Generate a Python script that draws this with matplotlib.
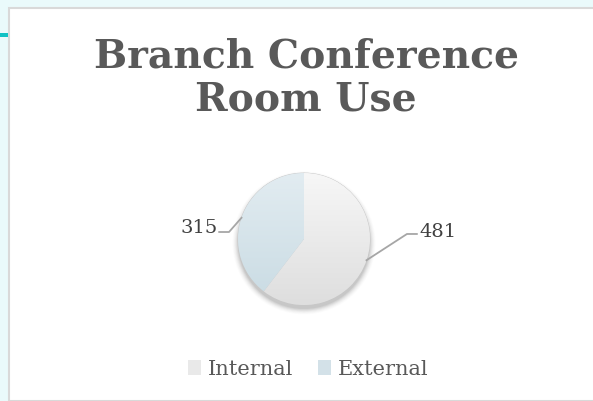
import numpy as np
import matplotlib
matplotlib.use("Agg")
import matplotlib.pyplot as plt
from matplotlib.patches import Rectangle, Circle
from matplotlib.lines import Line2D

categories = ["Internal", "External"]
values = [481, 315]
title = "Branch Conference\nRoom Use"

W, H = 593, 402
fig = plt.figure(figsize=(W / 100, H / 100), dpi=100)
fig.patch.set_facecolor("#eafafb")

# white panel with light border
fig.patches.append(Rectangle((9 / W, 0), 1, 1 - 9 / H, transform=fig.transFigure,
                             facecolor="white", edgecolor="#d9d9d9", lw=1.5, zorder=-5))
fig.patches.append(Rectangle((0, 1 - 37.5 / H), 8 / W, 4 / H, transform=fig.transFigure,
                             facecolor="#12c2c4", edgecolor="none", zorder=-4))

serif = ["DejaVu Serif"]

fig.text(306 / W, 1 - 78 / H, title, ha="center", va="center", fontsize=28.3,
         fontweight="bold", color="#595959", family=serif, linespacing=1.17)

R = 66
cx, cy = 304, 240
ax = fig.add_axes([(cx - 1.5 * R) / W, (H - cy - 1.5 * R) / H, 3 * R / W, 3 * R / H])
ax.set_xlim(-1.5, 1.5)
ax.set_ylim(-1.5, 1.5)
ax.set_aspect("equal")
ax.axis("off")

# soft shadow
for i, a in enumerate(np.linspace(0.045, 0.01, 8)):
    ax.add_patch(Circle((0, -0.06), 1.0 + 0.012 * i, facecolor="black", alpha=a,
                        edgecolor="none", zorder=1))

wedges, _ = ax.pie(values, startangle=90, counterclock=False, radius=1,
                   colors=["#f2f2f2", "#d6e4ea"],
                   wedgeprops=dict(edgecolor="#c8c8c8", linewidth=0.6, zorder=2))

# vertical gradients clipped to wedges
grads = [("#f7f7f7", "#dedede"), ("#e2ecf1", "#c9dbe3")]
yy = np.linspace(1, 0, 200)[:, None] * np.ones((1, 2))
for w, (top, bot) in zip(wedges, grads):
    c1 = np.array(matplotlib.colors.to_rgb(top))
    c2 = np.array(matplotlib.colors.to_rgb(bot))
    img = c2[None, None, :] + (c1 - c2)[None, None, :] * yy[:, :, None]
    im = ax.imshow(img, extent=(-1, 1, -1, 1), origin="upper", zorder=2.5,
                   aspect="auto", interpolation="bilinear")
    im.set_clip_path(w)
ax.set_xlim(-1.5, 1.5)
ax.set_ylim(-1.5, 1.5)

for w, v in zip(wedges, values):
    mid = np.deg2rad((w.theta1 + w.theta2) / 2)
    ex, ey = np.cos(mid), np.sin(mid)
    if ex > 0:
        elbow = (1.56, 0.076)
        end = (1.71, 0.076)
        txt = (1.745, 0.045)
        ha = "left"
    else:
        elbow = (-1.136, 0.106)
        end = (-1.285, 0.106)
        txt = (-1.30, 0.106)
        ha = "right"
    ax.add_line(Line2D([ex, elbow[0], end[0]], [ey, elbow[1], end[1]], color="#a6a6a6",
                       lw=1.3, clip_on=False, zorder=3))
    ax.text(txt[0], txt[1], str(v), ha=ha, va="baseline", fontsize=14, color="#404040",
            family=serif, clip_on=False)

handles = [Rectangle((0, 0), 1, 1, facecolor=c, edgecolor="none") for c in ["#e9e9e9", "#d3e1e8"]]
fig.legend(handles, categories, loc="center", bbox_to_anchor=(308 / W, 1 - 370 / H),
           ncol=2, frameon=False, prop=dict(family=serif, size=15),
           labelcolor="#595959", handlelength=0.65, handleheight=0.7,
           handletextpad=0.3, columnspacing=1.2)

fig.savefig("out.png", dpi=100, facecolor=fig.get_facecolor())
